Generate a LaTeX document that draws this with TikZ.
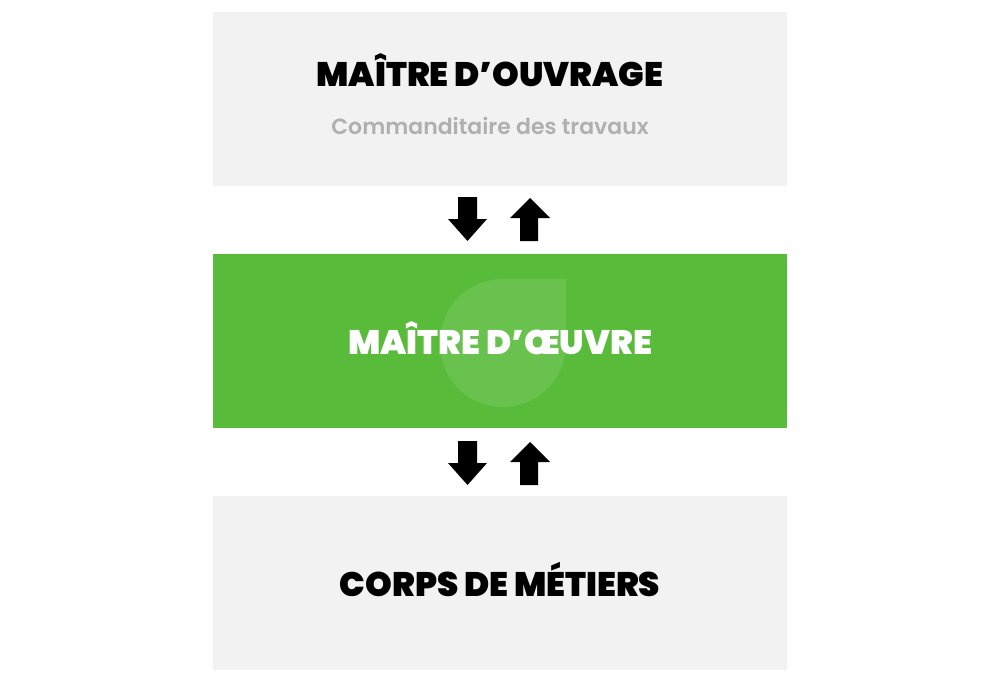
\documentclass[tikz,border=0pt]{standalone}
\usepackage{fontspec}
\setmainfont{Poppins}
\newfontfamily\pblack{Poppins Black}
\newfontfamily\psemi{Poppins SemiBold}
\definecolor{boxgray}{HTML}{F2F2F2}
\definecolor{mgreen}{HTML}{58BB3A}
\definecolor{subgray}{HTML}{B0B0B0}
\tikzset{
  panel/.style={inner sep=0pt, minimum width=574pt, minimum height=174pt, draw=none},
  title/.style={font=\pblack\fontsize{34}{40}\selectfont, inner sep=0pt, anchor=base},
  arrowdown/.style={fill=black, draw=none},
}
\begin{document}
\begin{tikzpicture}[x=1pt,y=-1pt]
\useasboundingbox (0,0) rectangle (1000,682);
\node[panel, fill=boxgray] (top) at (500,99) {};
\node[panel, fill=mgreen] (mid) at (500,341) {};
\node[panel, fill=boxgray] (bot) at (500,583) {};
% leaf shape
\fill[white, opacity=0.1] (566,279) -- (566,344) arc[start angle=0, end angle=180, radius=63] -- (440,342) arc[start angle=180, end angle=270, radius=63] -- cycle;
\node[title, text=black] (t1) at (490,87) {MAÎTRE D’OUVRAGE};
\node[font=\psemi\fontsize{22}{26}\selectfont, text=subgray, inner sep=0pt, anchor=base] (s1) at (490,134) {Commanditaire des travaux};
\node[title, text=white] (t2) at (500,354) {MAÎTRE D’ŒUVRE};
\node[title, text=black] (t3) at (500,596) {CORPS DE MÉTIERS};
% arrows
\foreach \yo/\nm in {0/a,244/b}{
  \fill[arrowdown] (458,197+\yo) -- (477,197+\yo) -- (477,219+\yo) -- (487,219+\yo) -- (467.5,241+\yo) -- (448,219+\yo) -- (458,219+\yo) -- cycle;
  \fill[arrowdown] (520,241+\yo) -- (538,241+\yo) -- (538,218+\yo) -- (550,218+\yo) -- (530,198+\yo) -- (510,218+\yo) -- (520,218+\yo) -- cycle;
}
\end{tikzpicture}
\end{document}
